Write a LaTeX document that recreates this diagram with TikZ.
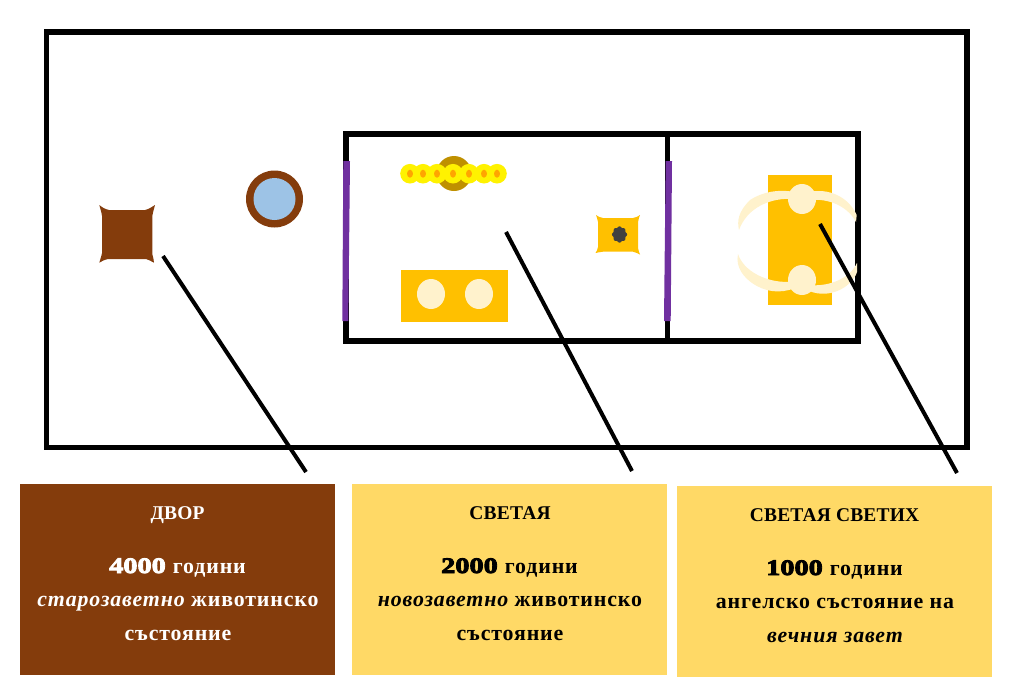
\documentclass[tikz,border=0pt]{standalone}
\usepackage{fontspec}
\setmainfont{Liberation Serif}[LetterSpace=4.0]
\newfontfamily\titlefont{Liberation Serif Bold}[LetterSpace=1.0]
\newfontfamily\numfont{Liberation Serif Bold}[FakeBold=4,FakeStretch=1.28]
\definecolor{brownb}{HTML}{843C0C}
\definecolor{goldb}{HTML}{FFD966}
\definecolor{altar}{HTML}{FFC000}
\definecolor{cream}{HTML}{FFF2CC}
\definecolor{veil}{HTML}{7030A0}
\definecolor{laver}{HTML}{9DC3E6}
\definecolor{lampgold}{HTML}{BF9000}
\definecolor{incense}{HTML}{404040}
\definecolor{flame}{HTML}{FFA500}
\newcommand{\ybf}{\normalfont\fontsize{16.4}{16.4}\selectfont\bfseries}
\newcommand{\ttl}{\fontsize{14.6}{14.6}\selectfont\titlefont}
\newcommand{\nmb}{\fontsize{16.6}{16.6}\selectfont\numfont}
\newcommand{\lamp}[1]{\fill[yellow] (#1,173.7) circle[radius=9.8];\fill[flame] (#1,173.7) ellipse[x radius=3,y radius=4];}
\tikzset{
  wall/.style={draw=black,line width=4.4pt,miter limit=10},
  pointer/.style={draw=black,line width=3pt},
  infobox/.style={minimum width=236.25pt,minimum height=143.25pt,inner sep=0pt,draw=none},
  line1/.style={anchor=base,inner sep=0pt},
}
\begin{document}
\begin{tikzpicture}[x=0.75pt,y=-0.75pt]
\useasboundingbox (0,0) rectangle (1017,693);
% walls
\draw[wall] (46.5,32) rectangle (967,447.5);
\draw[wall] (346,134) rectangle (858,341);
\draw[wall] (667.5,134) -- (667.5,341);
% veils
\fill[veil] (343.3,161) -- (350,161) -- (348.3,321) -- (342.3,321) -- cycle;
\fill[veil] (665.7,161) -- (672,161) -- (670.7,321) -- (664,321) -- cycle;
% court altar
\fill[brownb] (99.3,205) .. controls (103,208) and (105,209) .. (109,210) -- (145,210) .. controls (149,209) and (152,207) .. (155,205)
  .. controls (154,209) and (153,212) .. (152.3,216) -- (152.3,254) .. controls (153,257) and (154,260) .. (154,262.7)
  .. controls (151,261) and (149,260) .. (146,259) -- (108,259) .. controls (104,260) and (102,261) .. (99.3,262.7)
  .. controls (100,260) and (101.5,256) .. (102,253) -- (102,216) .. controls (101.5,212) and (100,208) .. (99.3,205) -- cycle;
% laver
\fill[brownb] (274.5,199) circle[radius=28.5];
\fill[laver] (274.5,199) circle[radius=21];
% menorah
\fill[lampgold] (454,173.5) circle[radius=17.5];
\lamp{410}\lamp{423}\lamp{437}\lamp{497}\lamp{484}\lamp{469}\lamp{453}
% table
\fill[altar] (401,270) rectangle (508,322);
\fill[cream] (431,294) ellipse[x radius=14,y radius=15];
\fill[cream] (479,294) ellipse[x radius=14,y radius=15];
% incense altar
\fill[altar] (596,215) .. controls (598,216.5) and (600,217.5) .. (603,218) -- (633,218) .. controls (636,217.5) and (638,216.5) .. (640,215)
  .. controls (639.5,216.5) and (638.5,219) .. (638,222) -- (638,248) .. controls (638.5,251) and (639.5,253) .. (640,254.5)
  .. controls (638,253.5) and (636,252.5) .. (633,251.7) -- (603,251.7) .. controls (600,252) and (598,252.5) .. (595.5,253)
  .. controls (596.5,251.5) and (597.5,250) .. (598,247) -- (598,222) .. controls (597.5,219) and (596.5,216.5) .. (596,215) -- cycle;
\fill[incense] plot[samples=49,domain=0:352.5] ({619.5+(7+0.6*cos(8*\x))*cos(\x)},{234.5+(7.6+0.6*cos(8*\x))*sin(\x)}) -- cycle;
% ark
\fill[altar] (768.3,175.3) rectangle (831.7,304.7);
\fill[cream] (739,230) .. controls (737,221) and (738,212) .. (750,200) .. controls (762,192) and (778,189) .. (795,192) -- (795,199) .. controls (770,197) and (747,208) .. (739,230) -- cycle;
\fill[cream] (809,192) .. controls (828,188) and (848,196) .. (856.7,215) -- (856,222) .. controls (848,207) and (830,198) .. (809,200) -- cycle;
\fill[cream] (738,254) .. controls (735,268) and (745,278) .. (752,283) .. controls (765,292) and (780,294) .. (795,288) -- (795,281) .. controls (775,285) and (745,275) .. (738,254) -- cycle;
\fill[cream] (809,285) .. controls (830,287) and (850,278) .. (857,263) -- (857,272) .. controls (853,285) and (832,300) .. (809,291) -- cycle;
\fill[cream] (802,199) ellipse[x radius=14,y radius=15];
\fill[cream] (802,280) ellipse[x radius=14,y radius=15];
% boxes
\node[infobox,fill=brownb,anchor=north west] (bc) at (20,484) {};
\node[infobox,fill=goldb,anchor=north west] (bh) at (352,484) {};
\node[infobox,fill=goldb,anchor=north west] (bm) at (677,486) {};
% pointers
\coordinate (p1a) at (163,256); \coordinate (p1b) at (306,472);
\coordinate (p2a) at (506,232); \coordinate (p2b) at (632,471);
\coordinate (p3a) at (820,224); \coordinate (p3b) at (957,473);
\draw[pointer] (p1a) -- (p1b);
\draw[pointer] (p2a) -- (p2b);
\draw[pointer] (p3a) -- (p3b);
% texts
\begin{scope}[every node/.style={line1,text=white}]
\node (c1) at (177.5,519.5) {\ttl ДВОР};
\node (c2) at (177.5,573) {\nmb 4000\ \ybf години};
\node (c3) at (178,606.5) {\ybf\itshape старозаветно \upshape животинско};
\node (c4) at (178,640) {\ybf състояние};
\end{scope}
\begin{scope}[every node/.style={line1,text=black}]
\node (h1) at (510,519.5) {\ttl СВЕТАЯ};
\node (h2) at (509.5,573) {\nmb 2000\ \ybf години};
\node (h3) at (510,606.5) {\ybf\itshape новозаветно \upshape животинско};
\node (h4) at (510,640) {\ybf състояние};
\node (m1) at (834.5,521.5) {\ttl СВЕТАЯ СВЕТИХ};
\node (m2) at (834.5,575) {\nmb 1000\ \ybf години};
\node (m3) at (835,608.5) {\ybf ангелско състояние на};
\node (m4) at (835,642.5) {\ybf\itshape вечния завет};
\end{scope}
\end{tikzpicture}
\end{document}
